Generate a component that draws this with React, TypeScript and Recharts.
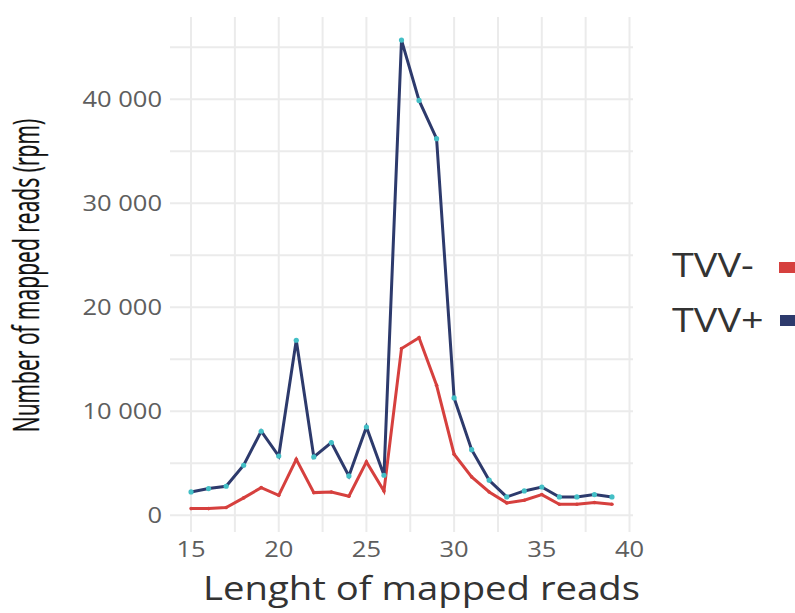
import { LineChart, Line, XAxis, YAxis, CartesianGrid, Legend, Label } from 'recharts';

const lengths = [15, 16, 17, 18, 19, 20, 21, 22, 23, 24, 25, 26, 27, 28, 29, 30, 31, 32, 33, 34, 35, 36, 37, 38, 39];
const tvvPlus = [2240, 2570, 2790, 4810, 8080, 5700, 16830, 5610, 6990, 3780, 8490, 3850, 45700, 39900, 36220, 11280, 6310, 3370, 1760, 2340, 2720, 1760, 1760, 1990, 1760];
const tvvMinus = [640, 640, 740, 1670, 2660, 1920, 5380, 2180, 2240, 1830, 5130, 2340, 16030, 17080, 12500, 5870, 3690, 2240, 1190, 1440, 1990, 1060, 1060, 1220, 1060];

const xTicks = [15, 17.5, 20, 22.5, 25, 27.5, 30, 32.5, 35, 37.5, 40];
const yTicks = [0, 5000, 10000, 15000, 20000, 25000, 30000, 35000, 40000, 45000];
const xDomain = [13.8, 40.2];
const yDomain = [-1610, 47920];

const data = lengths.map((len, i) => ({ len, minus: tvvMinus[i], plus: tvvPlus[i] }));

const RED = '#d6403e';
const NAVY = '#2d3a6c';
const STRETCH = 1.16;

const fmt = (v: number) => String(v).replace(/\B(?=(\d{3})+(?!\d))/g, ' ');

function XTick({ x, y, payload }: any) {
  if (payload.value % 5 !== 0) return null;
  return (
    <g transform={`translate(${x},${y + 17}) scale(${STRETCH},1)`}>
      <text x={0} y={0} textAnchor="middle" fontSize={22} fill="#5e5e5e" fontFamily="'Open Sans', sans-serif">
        {payload.value}
      </text>
    </g>
  );
}

function YTick({ x, y, payload }: any) {
  if (payload.value % 10000 !== 0) return null;
  return (
    <g transform={`translate(${x},${y + 8}) scale(${STRETCH},1)`}>
      <text x={0} y={0} textAnchor="end" fontSize={22} fill="#5e5e5e" fontFamily="'Open Sans', sans-serif">
        {fmt(payload.value)}
      </text>
    </g>
  );
}

function LegendBox() {
  return (
    <svg width={135} height={110} style={{ display: 'block' }}>
      <text transform={`translate(12,37) scale(1.2,1)`} fontSize={33} fill="#333" fontFamily="'Open Sans', sans-serif">TVV-</text>
      <rect x={119} y={22} width={20} height={11} fill={RED} />
      <text transform={`translate(12,92) scale(1.2,1)`} fontSize={33} fill="#333" fontFamily="'Open Sans', sans-serif">TVV+</text>
      <rect x={120} y={75} width={20} height={11} fill={NAVY} />
    </svg>
  );
}

// grid only at tick values, no border lines at the panel edges
const hGen = ({ offset }: any) =>
  yTicks.map((t) => offset.top + offset.height * (1 - (t - yDomain[0]) / (yDomain[1] - yDomain[0])));
const vGen = ({ offset }: any) =>
  xTicks.map((t) => offset.left + (offset.width * (t - xDomain[0])) / (xDomain[1] - xDomain[0]));

export default function App() {
  return (
    <div style={{ position: 'absolute', left: 0, top: 0, background: '#fff' }}>
      <LineChart width={795} height={613} data={data} margin={{ top: 17, right: 162, bottom: 0, left: 0 }}>
        <CartesianGrid
          stroke="#ebebeb"
          strokeWidth={2}
          horizontalCoordinatesGenerator={hGen}
          verticalCoordinatesGenerator={vGen}
        />
        <XAxis
          dataKey="len"
          type="number"
          domain={xDomain}
          ticks={xTicks}
          interval={0}
          height={81}
          axisLine={false}
          tickLine={false}
          tick={<XTick />}
        >
          <Label
            content={() => (
              <text x={421.5} y={600} textAnchor="middle" fontSize={33} fill="#333" fontFamily="'Open Sans', sans-serif" textLength={437} lengthAdjust="spacingAndGlyphs">
                Lenght of mapped reads
              </text>
            )}
          />
        </XAxis>
        <YAxis
          type="number"
          domain={yDomain}
          ticks={yTicks}
          interval={0}
          width={170}
          axisLine={false}
          tickLine={false}
          tick={<YTick />}
        >
          <Label
            content={() => (
              <g transform="translate(39,275.5) rotate(-90) scale(0.585,1)">
                <text
                  x={0}
                  y={0}
                  textAnchor="middle"
                  fontSize={36}
                  fill="#111"
                  stroke="#111"
                  strokeWidth={0.3}
                  fontFamily="'Open Sans', sans-serif"
                >
                  Number of mapped reads (rpm)
                </text>
              </g>
            )}
          />
        </YAxis>
        <Legend
          layout="horizontal"
          verticalAlign="middle"
          align="center"
          wrapperStyle={{ left: 660, top: 240, width: 135, height: 110 }}
          content={() => <LegendBox />}
        />
        <Line
          dataKey="minus"
          name="TVV-"
          type="linear"
          stroke={RED}
          strokeWidth={3}
          dot={{ r: 1.8, fill: RED, stroke: 'none' }}
          isAnimationActive={false}
        />
        <Line
          dataKey="plus"
          name="TVV+"
          type="linear"
          stroke={NAVY}
          strokeWidth={3}
          dot={{ r: 2.6, fill: '#43bfc6', stroke: 'none' }}
          isAnimationActive={false}
        />
      </LineChart>
    </div>
  );
}
